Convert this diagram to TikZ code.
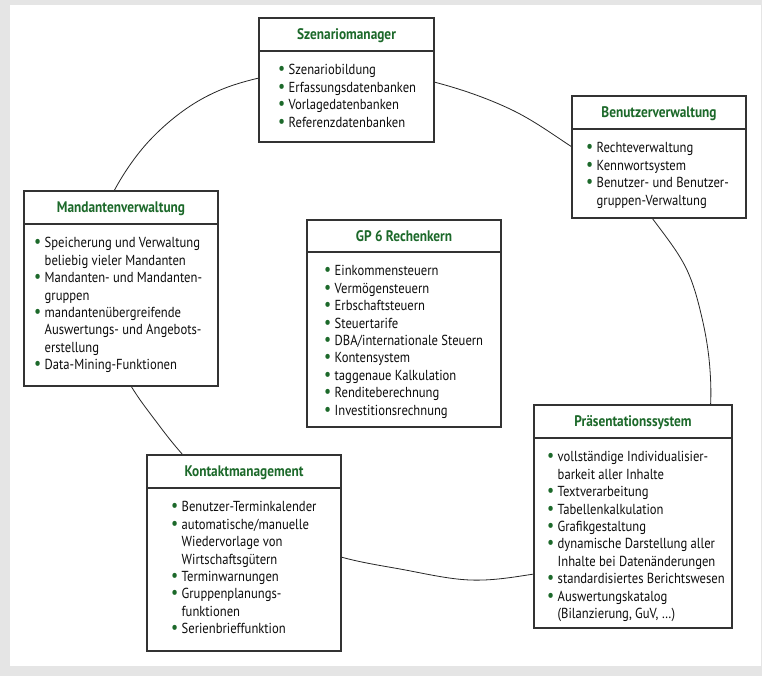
\documentclass[tikz,border=0pt]{standalone}
\usepackage{fontspec}
\setmainfont{PT Sans}[FakeStretch=0.87]
\usepackage{graphicx}
\usetikzlibrary{fit}
\definecolor{bgreen}{RGB}{28,105,42}
\definecolor{bgray}{RGB}{229,229,229}
\newcommand\bul{\makebox[10.5pt][l]{\textcolor{bgreen}{\scalebox{1.25}{•}}}}
\newcommand\hang{\hspace*{10.5pt}}
\tikzset{
  box/.style={draw=black!80, line width=1.1pt, fill=white, rectangle, inner sep=0pt},
  hdr/.style={draw=black!80, line width=1.1pt, rectangle, inner sep=0pt},
  ttl/.style={font=\fontsize{15.3}{17}\selectfont\bfseries, text=bgreen, anchor=base, inner sep=0pt},
  items/.style={font=\fontsize{14.5}{17.4}\selectfont, text=black!95, align=left, anchor=north west, inner sep=0pt},
  loopline/.style={draw=black!85, line width=0.8pt},
}
% #1 name, #2 x1, #3 y1, #4 x2, #5 y2, #6 header line y, #7 bullet x, #8 title, #9 items
\newcommand\diabox[9]{%
  \node[box, fit={(#2,#3) (#4,#5)}] (#1) {};
  \node[hdr, fit={(#2,#3) (#4,#6)}] (#1h) {};
  \node[ttl, yshift=-5pt] (#1t) at (#1h.center) {#8};
  \node[items] (#1i) at (#7,{#6+11.5}) {\strut #9};
}
\begin{document}
\begin{tikzpicture}[x=1pt,y=-1pt]
  \useasboundingbox (0,0) rectangle (762,676);
  \fill[bgray] (0,0) rectangle (762,676);
  \fill[white] (10,5) rectangle (761,666);
  \draw[loopline] plot[smooth cycle, tension=0.6] coordinates {
    (345,66) (434,82) (510,109) (572,147) (622,182) (655,222) (686,268)
    (702,318) (710,370) (709,420) (695,470) (660,525) (600,560) (534,574)
    (470,580) (400,569) (341,557) (285,537) (230,505) (183,455) (155,420)
    (131,386) (105,338) (93,290) (98,238) (114,191) (150,140) (200,100) (259,78)};
  \diabox{sz}{259}{18}{434}{142}{51}{278}{Szenariomanager}{%
    \bul Szenariobildung\\ \bul Erfassungsdatenbanken\\ \bul Vorlagedatenbanken\\ \bul Referenzdatenbanken}
  \diabox{bv}{572}{96}{746}{218}{129}{586}{Benutzerverwaltung}{%
    \bul Rechteverwaltung\\ \bul Kennwortsystem\\ \bul Benutzer- und Benutzer-\\ \hang gruppen-Verwaltung}
  \diabox{mv}{24}{191}{218}{386}{224}{34}{Mandantenverwaltung}{%
    \bul Speicherung und Verwaltung\\ \hang beliebig vieler Mandanten\\ \bul Mandanten- und Mandanten-\\ \hang gruppen\\ \bul mandantenübergreifende\\ \hang Auswertungs- und Angebots-\\ \hang erstellung\\ \bul Data-Mining-Funktionen}
  \diabox{rk}{307}{220}{501}{427}{252}{324}{GP 6 Rechenkern}{%
    \bul Einkommensteuern\\ \bul Vermögensteuern\\ \bul Erbschaftsteuern\\ \bul Steuertarife\\ \bul DBA/internationale Steuern\\ \bul Kontensystem\\ \bul taggenaue Kalkulation\\ \bul Renditeberechnung\\ \bul Investitionsrechnung}
  \diabox{ps}{534}{405}{732}{628}{438}{547}{Präsentationssystem}{%
    \bul vollständige Individualisier-\\ \hang barkeit aller Inhalte\\ \bul Textverarbeitung\\ \bul Tabellenkalkulation\\ \bul Grafikgestaltung\\ \bul dynamische Darstellung aller\\ \hang Inhalte bei Datenänderungen\\ \bul standardisiertes Berichtswesen\\ \bul Auswertungskatalog\\ \hang (Bilanzierung, GuV, …)}
  \diabox{km}{147}{455}{341}{651}{488}{171}{Kontaktmanagement}{%
    \bul Benutzer-Terminkalender\\ \bul automatische/manuelle\\ \hang Wiedervorlage von\\ \hang Wirtschaftsgütern\\ \bul Terminwarnungen\\ \bul Gruppenplanungs-\\ \hang funktionen\\ \bul Serienbrieffunktion}
\end{tikzpicture}
\end{document}
